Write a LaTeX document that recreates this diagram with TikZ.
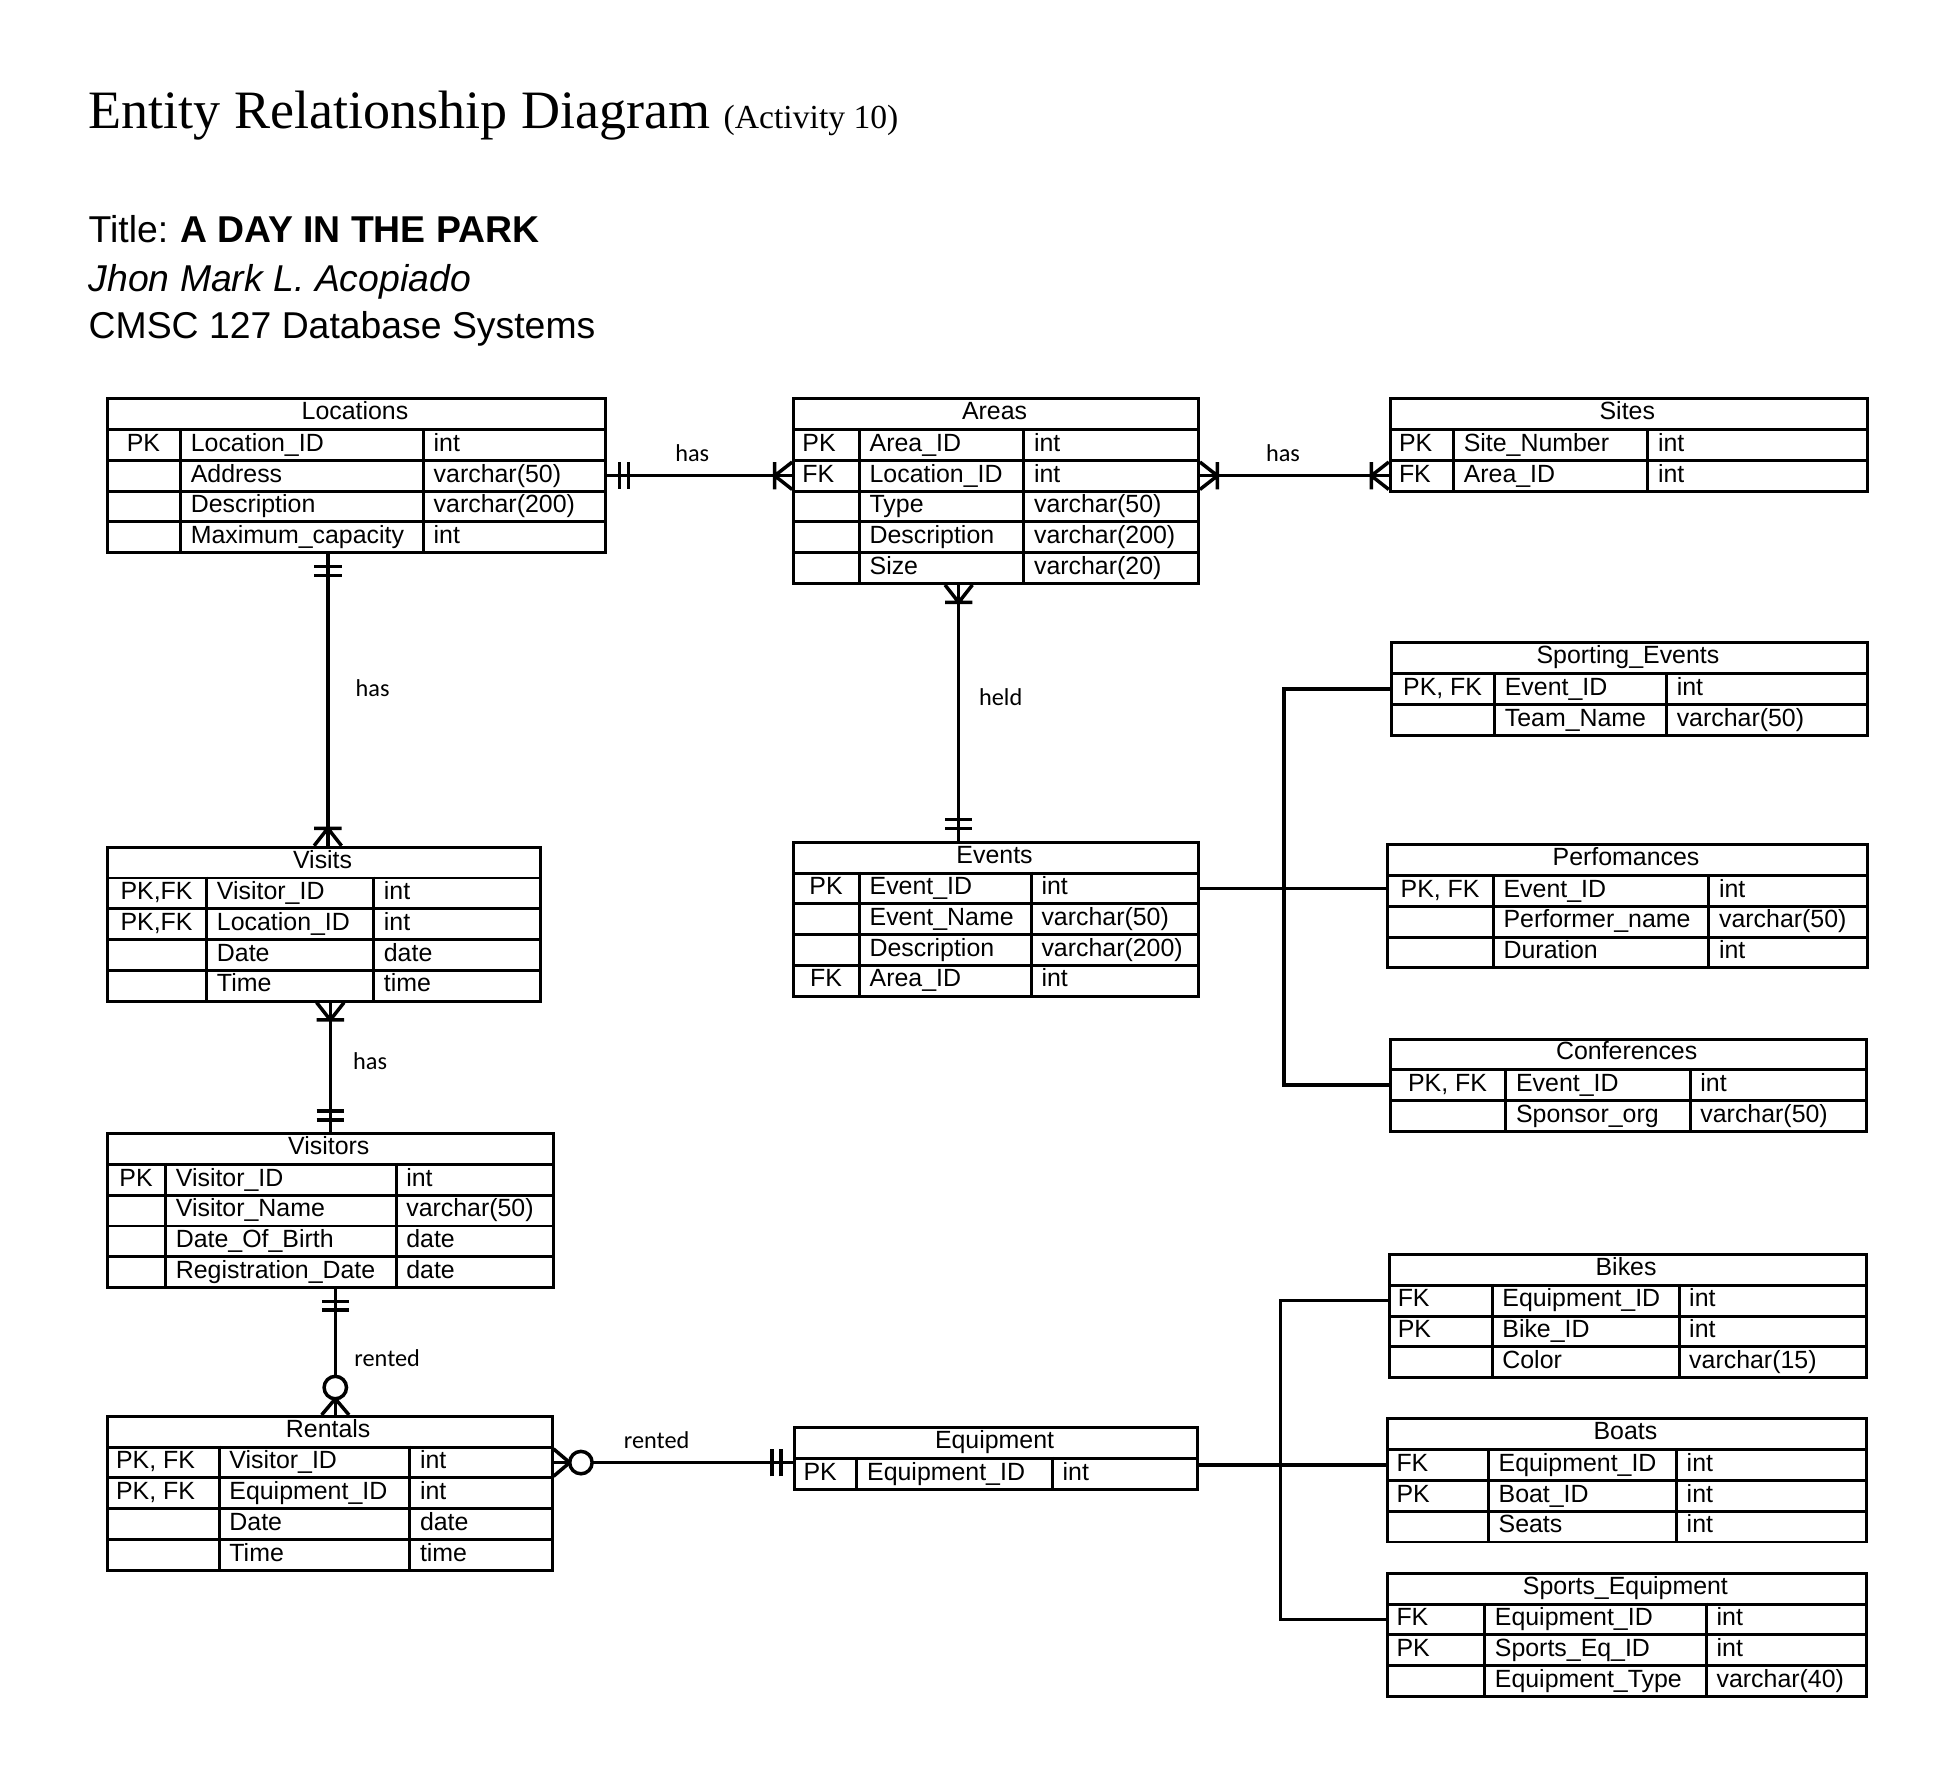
\documentclass[tikz,border=0pt]{standalone}
\usepackage{fontspec}
\setmainfont{Liberation Sans}
\newfontfamily\titlefont{Liberation Serif}
\newfontfamily\relfont{Carlito}
\usetikzlibrary{positioning, calc}

\newcommand{\erowh}{24.7}
\newcommand{\cellfont}{\fontsize{20}{22}\selectfont}

% one entity table: [key style]{name}{title}{x0}{x1}{x2}{x3}{top}{rows}
\newcommand{\ertable}[9][keyc]{%
  \pgfmathsetmacro{\keyw}{#5-#4}%
  \node[cell, minimum width={(#7-#4)*1pt}] (#2-0) at (#4,#8) {};
  \node[headtext] (#2-title) at ({(#4+#7)/2}, {#8+18}) {#3};
  \foreach \kk/\fld/\typ [count=\i] in {#9} {
    \node[cell, minimum width={(#7-#4)*1pt}] (#2-\i) at (#4, {#8+\i*\erowh}) {};
    \draw[grid] (#5, {#8+\i*\erowh}) -- ++(0,\erowh) (#6, {#8+\i*\erowh}) -- ++(0,\erowh);
    \node[celltext, #1] (#2-\i-k) at (#4, {#8+\i*\erowh+18.6}) {\kk};
    \node[celltext] (#2-\i-f) at ({#5+8}, {#8+\i*\erowh+18.6}) {\fld};
    \node[celltext] (#2-\i-t) at ({#6+8}, {#8+\i*\erowh+18.6}) {\typ};
    \xdef\ernrows{\i}
  }
  \node[cell, minimum width={(#7-#4)*1pt}, minimum height={(\ernrows+1)*\erowh*1pt}] (#2) at (#4,#8) {};
}

\begin{document}
\begin{tikzpicture}[x=1pt, y=-1pt,
    cell/.style={draw=black, line width=2.4pt, inner sep=0pt, anchor=north west, minimum height={\erowh*1pt}},
    grid/.style={line width=2.4pt},
    celltext/.style={inner sep=0pt, anchor=base west, font=\cellfont},
    keyc/.style={minimum width={\keyw*1pt}},
    keyl/.style={inner xsep=8pt},
    headtext/.style={inner sep=0pt, anchor=base, font=\cellfont},
    conn/.style={line width=2.8pt},
    rel/.style={font=\relfont\fontsize{19.5}{22}\selectfont, inner sep=0pt},
    mandone/.pic={\draw[conn] (10,-11) -- (10,11) (17,-11) -- (17,11);},
    onemany/.pic={\draw[conn] (0,-11) -- (14,0) -- (0,11) (14,-11) -- (14,11);},
    zeromany/.pic={\draw[conn] (0,-11) -- (13,0) -- (0,11); \draw[conn, fill=white] (22,0) circle (9);}
]
\useasboundingbox (0,0) rectangle (1568,1433);

% Heading
\node[anchor=base west, inner sep=0pt, font=\titlefont\fontsize{43.4}{50}\selectfont] (heading) at (71,103)
    {Entity Relationship Diagram {\fontsize{27}{30}\selectfont (Activity 10)}};
\node[anchor=base west, inner sep=0pt, font=\fontsize{30}{34}\selectfont] (project) at (71,195)
    {Title:\hspace{9.5pt}\textbf{A DAY IN THE PARK}};
\node[anchor=base west, inner sep=0pt, font=\fontsize{30}{34}\selectfont\itshape] (author) at (71,234)
    {Jhon Mark L. Acopiado};
\node[anchor=base west, inner sep=0pt, font=\fontsize{30}{34}\selectfont] (course) at (71,272)
    {CMSC 127 Database Systems};

% Tables
\ertable{loc}{Locations}{85}{145}{340}{485}{319}
    {PK/Location\_ID/int, /Address/varchar(50), /Description/varchar(200), /Maximum\_capacity/int}
\ertable[keyl]{area}{Areas}{636}{690}{822}{961}{319}
    {PK/Area\_ID/int, FK/Location\_ID/int, /Type/varchar(50), /Description/varchar(200), /Size/varchar(20)}
\ertable[keyl]{site}{Sites}{1115}{1167}{1323}{1498}{319}
    {PK/Site\_Number/int, FK/Area\_ID/int}
\ertable{vis}{Visits}{85}{166}{300}{433}{679}
    {{PK,FK}/Visitor\_ID/int, {PK,FK}/Location\_ID/int, /Date/date, /Time/time}
\ertable{vstr}{Visitors}{85}{133}{318}{443}{909}
    {PK/Visitor\_ID/int, /Visitor\_Name/varchar(50), /Date\_Of\_Birth/date, /Registration\_Date/date}
\ertable[keyl]{rent}{Rentals}{85}{176}{329}{442}{1136}
    {{PK, FK}/Visitor\_ID/int, {PK, FK}/Equipment\_ID/int, /Date/date, /Time/time}
\ertable{ev}{Events}{636}{690}{828}{961}{675}
    {PK/Event\_ID/int, /Event\_Name/varchar(50), /Description/varchar(200), FK/Area\_ID/int}
\ertable[keyl]{eq}{Equipment}{637}{688}{845}{960}{1145}
    {PK/Equipment\_ID/int}
\ertable{sport}{Sporting\_Events}{1116}{1200}{1338}{1498}{515}
    {{PK, FK}/Event\_ID/int, /Team\_Name/varchar(50)}
\ertable{perf}{Perfomances}{1113}{1199}{1372}{1498}{677}
    {{PK, FK}/Event\_ID/int, /Performer\_name/varchar(50), /Duration/int}
\ertable{conf}{Conferences}{1115}{1209}{1357}{1497}{833}
    {{PK, FK}/Event\_ID/int, /Sponsor\_org/varchar(50)}
\ertable[keyl]{bike}{Bikes}{1114}{1198}{1348}{1497}{1006}
    {FK/Equipment\_ID/int, PK/Bike\_ID/int, /Color/varchar(15)}
\ertable[keyl]{boat}{Boats}{1113}{1195}{1346}{1497}{1138}
    {FK/Equipment\_ID/int, PK/Boat\_ID/int, /Seats/int}
\ertable[keyl]{speq}{Sports\_Equipment}{1113}{1192}{1370}{1497}{1262}
    {FK/Equipment\_ID/int, PK/Sports\_Eq\_ID/int, /Equipment\_Type/varchar(40)}

% Relationships
\draw[conn] (loc-2.east) -- node[rel, above=10pt, pos=.46] (r-loc-area) {has} (area-2.west);
\pic at (loc-2.east) {mandone};
\pic[rotate=180] at (area-2.west) {onemany};

\draw[conn] (area-2.east) -- node[rel, above=10pt, pos=.44] (r-area-site) {has} (site-2.west);
\pic at (area-2.east) {onemany};
\pic[rotate=180] at (site-2.west) {onemany};

\coordinate (locvis) at ([xshift=3pt]vis.north);
\draw[conn] (locvis |- loc.south) -- node[rel, right=21pt, pos=.46] (r-loc-vis) {has} (locvis);
\pic[rotate=-90] at (locvis |- loc.south) {mandone};
\pic[rotate=90] at (locvis) {onemany};

\draw[conn] ([xshift=-30pt]area.south) -- node[rel, right=15pt, pos=.44] (r-area-ev) {held} ([xshift=-30pt]ev.north);
\pic[rotate=-90] at ([xshift=-30pt]area.south) {onemany};
\pic[rotate=90] at ([xshift=-30pt]ev.north) {mandone};

\draw[conn] (vstr.north |- vis.south) -- node[rel, right=17pt, pos=.45] (r-vis-vstr) {has} (vstr.north);
\pic[rotate=-90] at (vstr.north |- vis.south) {onemany};
\pic[rotate=90] at (vstr.north) {mandone};

\coordinate (vstrrent) at ([xshift=4pt]vstr.south);
\draw[conn] (vstrrent) -- node[rel, right=14pt, pos=.55] (r-vstr-rent) {rented} (vstrrent |- rent.north);
\pic[rotate=-90] at (vstrrent) {mandone};
\pic[rotate=90] at (vstrrent |- rent.north) {zeromany};

\draw[conn] (rent-1.east) -- node[rel, above=10pt, pos=.43] (r-rent-eq) {rented} (rent-1.east -| eq.west);
\pic at (rent-1.east) {zeromany};
\pic[rotate=180] at (rent-1.east -| eq.west) {mandone};

% Event subtypes
\coordinate (evbus) at (1031,0);
\draw[conn] (ev-1.east) -- (ev-1.east -| perf-1.west);
\draw[conn] (sport-1.west) -- (sport-1.west -| evbus) -- (conf-1.west -| evbus) -- (conf-1.west);

% Equipment subtypes
\coordinate (eqbus) at (1028,0);
\draw[conn] (boat-1.west -| eq.east) -- (boat-1.west);
\draw[conn] (bike-1.west) -- (bike-1.west -| eqbus) -- (speq-1.west -| eqbus) -- (speq-1.west);

\end{tikzpicture}
\end{document}
